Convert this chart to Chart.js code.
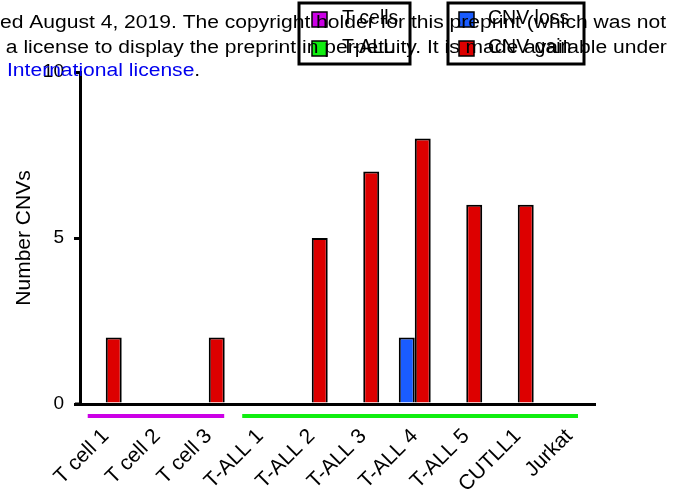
<!DOCTYPE html>
<html>
<head>
<meta charset="utf-8">
<script src="https://cdn.jsdelivr.net/npm/chart.js@4/dist/chart.umd.min.js"></script>
<style>
  html, body { margin: 0; padding: 0; background: #fff; }
  #wrap { width: 697px; height: 493px; position: relative; }
</style>
</head>
<body>
<div id="wrap"><canvas id="cnvChart"></canvas></div>
<script>
// samples on the x axis
const categories = ["T cell 1", "T cell 2", "T cell 3", "T-ALL 1", "T-ALL 2", "T-ALL 3", "T-ALL 4", "T-ALL 5", "CUTLL1", "Jurkat"];
// number of CNVs per sample
const lossValues = [0, 0, 0, 0, 0, 0, 2, 0, 0, 0];
const gainValues = [2, 0, 2, 0, 5, 7, 8, 6, 6, 0];
const yTicks = [0, 5, 10];

// sample groups, given as ranges in category units under the axis
const groupNames = ["T cells", "T-ALL"];
const groupFrom = [-0.35, 2.65];
const groupTo = [2.3, 9.17];
const groupColors = ["#cc00e6", "#11ee11"];

const seriesNames = ["CNV loss", "CNV gain"];
const seriesColors = ["#1a5cff", "#dd0000"];

// preprint header that sits over the top of the figure
const headerLines = [
    "ed August 4, 2019. The copyright holder for this preprint (which was not",
    " a license to display the preprint in perpetuity. It is made available under"
];

const FONT = "'Liberation Sans', Arial, sans-serif";

const extras = {
    id: "extras",
    afterDraw(chart) {
        const ctx = chart.ctx;
        const area = chart.chartArea;
        const cw = (area.right - area.left) / categories.length;

        ctx.save();
        // x axis line runs a bit past the y axis on the left
        ctx.strokeStyle = "#000";
        ctx.lineWidth = 3;
        ctx.beginPath();
        ctx.moveTo(area.left - 5, area.bottom);
        ctx.lineTo(area.left, area.bottom);
        ctx.stroke();

        // group bars below the axis
        ctx.lineWidth = 4;
        groupNames.forEach((g, i) => {
            ctx.strokeStyle = groupColors[i];
            ctx.beginPath();
            ctx.moveTo(area.left + (groupFrom[i] + 0.5) * cw, area.bottom + 12);
            ctx.lineTo(area.left + (groupTo[i] + 0.5) * cw, area.bottom + 12);
            ctx.stroke();
        });

        // the two legend boxes
        function legendBox(bx, bw, names, colors, sqX, textX) {
            ctx.lineWidth = 3;
            ctx.strokeStyle = "#000";
            ctx.strokeRect(bx, 3, bw, 61);
            names.forEach((n, i) => {
                const sy = 12 + i * 29;
                ctx.fillStyle = colors[i];
                ctx.fillRect(bx + sqX, sy, 15, 15);
                ctx.lineWidth = 1.5;
                ctx.strokeRect(bx + sqX, sy, 15, 15);
                ctx.fillStyle = "#000";
                ctx.font = "19.5px " + FONT;
                ctx.textBaseline = "middle";
                ctx.fillText(n, bx + textX, sy + 7);
            });
        }
        legendBox(299, 111, groupNames, groupColors, 13, 43);
        legendBox(448, 136, seriesNames, seriesColors, 11, 40);

        // header text, a little wider than the local sans
        ctx.font = "18px " + FONT;
        ctx.textBaseline = "alphabetic";
        ctx.fillStyle = "#000";
        ctx.save();
        ctx.scale(1.17, 1);
        ctx.fillText(headerLines[0], 0, 28);
        ctx.fillText(headerLines[1], 0, 53);
        const blue = "International license";
        ctx.fillStyle = "#0000ee";
        ctx.fillText(blue, 6, 76);
        ctx.fillStyle = "#000";
        ctx.fillText(".", 6 + ctx.measureText(blue).width, 76);
        ctx.restore();
        ctx.restore();
    }
};

new Chart(document.getElementById("cnvChart"), {
    type: "bar",
    data: {
        labels: categories,
        datasets: [
            { label: seriesNames[0], data: lossValues, backgroundColor: seriesColors[0], borderColor: "#000", borderWidth: 2 },
            { label: seriesNames[1], data: gainValues, backgroundColor: seriesColors[1], borderColor: "#000", borderWidth: 2 }
        ]
    },
    options: {
        responsive: true,
        maintainAspectRatio: false,
        animation: false,
        layout: { padding: { top: 72, right: 102, left: 0, bottom: 0 } },
        categoryPercentage: 0.62,
        barPercentage: 1,
        plugins: { legend: { display: false }, tooltip: { enabled: false } },
        scales: {
            x: {
                grid: { display: false },
                border: { color: "#000", width: 3 },
                ticks: {
                    color: "#000",
                    font: { family: FONT, size: 21 },
                    minRotation: 45,
                    maxRotation: 45,
                    autoSkip: false,
                    padding: 12
                },
                afterFit(scale) { scale.height = 89; }
            },
            y: {
                min: 0,
                max: 10,
                afterBuildTicks(scale) { scale.ticks = yTicks.map(v => ({ value: v })); },
                grid: { drawOnChartArea: false, drawTicks: true, tickLength: 6, color: "#000", lineWidth: 3 },
                border: { color: "#000", width: 3 },
                ticks: { color: "#000", font: { family: FONT, size: 19 }, padding: 10 },
                title: { display: true, text: "Number CNVs", color: "#000", font: { family: FONT, size: 21 }, padding: { top: 12, bottom: 0 } },
                afterFit(scale) { scale.width = 80; }
            }
        }
    },
    plugins: [extras]
});
</script>
</body>
</html>
